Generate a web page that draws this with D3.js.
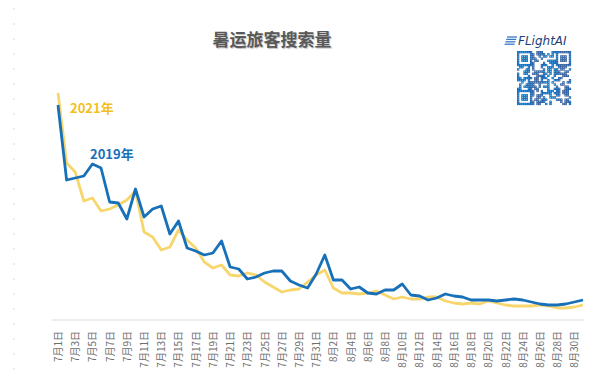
<!DOCTYPE html>
<html>
<head>
<meta charset="utf-8">
<script src="https://cdn.jsdelivr.net/npm/d3@7"></script>
<style>
	body { margin: 0; background: #fff; }
	#chart { width: 613px; height: 386px; }
	text { font-family: "Noto Sans CJK SC", "Noto Sans", sans-serif; }
</style>
</head>
<body>
<div id="chart"></div>
<script>
// Dates, 1 Jul - 31 Aug
var days = [
	"7月1日","7月2日","7月3日","7月4日","7月5日","7月6日","7月7日","7月8日","7月9日","7月10日",
	"7月11日","7月12日","7月13日","7月14日","7月15日","7月16日","7月17日","7月18日","7月19日","7月20日",
	"7月21日","7月22日","7月23日","7月24日","7月25日","7月26日","7月27日","7月28日","7月29日","7月30日",
	"7月31日","8月1日","8月2日","8月3日","8月4日","8月5日","8月6日","8月7日","8月8日","8月9日",
	"8月10日","8月11日","8月12日","8月13日","8月14日","8月15日","8月16日","8月17日","8月18日","8月19日",
	"8月20日","8月21日","8月22日","8月23日","8月24日","8月25日","8月26日","8月27日","8月28日","8月29日",
	"8月30日","8月31日"
];

// search volume (relative index)
var values2019 = [
	215,140,142,144,156,152,118,117,101,131,
	103,111,114,86,99,72,69,65,67,79,
	53,51,41,43,47,49,49,39,35,32,
	46,65,40,40,31,33,27,26,30,30,
	36,25,24,20,22,26,24,23,20,20,
	20,19,20,21,20,18,16,15,15,16,
	18,20
];
var values2021 = [
	227,157,148,119,122,109,111,115,120,129,
	88,83,70,73,90,80,72,58,52,55,
	45,44,47,45,38,33,28,30,31,38,
	45,50,32,27,27,26,27,29,25,21,
	23,21,21,23,23,19,17,16,17,16,
	19,17,15,14,14,14,15,14,12,12,
	13,15
];

var title = "暑运旅客搜索量";
var seriesNames = ["2019年", "2021年"];
var colors = {line2019: "#1770b8", line2021: "#f8d66e", label2021: "#f2bf1c"};

var width = 613, height = 386;
var margin = {top: 90, bottom: 66, left: 58, right: 30};

var svg = d3.select("#chart")
	.append("svg")
	.attr("width", width)
	.attr("height", height);

// faint dotted guide at the left edge
svg.append("g")
	.selectAll("circle")
	.data(d3.range(9, 372, 15))
	.enter()
	.append("circle")
	.attr("cx", 14)
	.attr("cy", d => d)
	.attr("r", 0.9)
	.attr("fill", "#e4e4e4");

// scales
var x = d3.scalePoint()
	.domain(days)
	.range([margin.left, width - margin.right]);
var y = d3.scaleLinear()
	.domain([0, 230])
	.range([height - margin.bottom, margin.top]);

// title
svg.append("text")
	.attr("x", 272)
	.attr("y", 46)
	.attr("text-anchor", "middle")
	.style("font-size", "17px")
	.style("font-weight", "bold")
	.style("fill", "#595959")
	.style("text-shadow", "1px 1px 1px rgba(0,0,0,0.25)")
	.text(title);

// x axis
var xAxisG = svg.append("g")
	.attr("transform", `translate(0, ${height - margin.bottom})`)
	.call(d3.axisBottom(x)
		.tickValues(days.filter((d, i) => i % 2 == 0))
		.tickSize(0));
xAxisG.select(".domain").remove();
xAxisG.append("line")
	.attr("x1", 52)
	.attr("x2", 584)
	.attr("stroke", "#dcdcdc");
xAxisG.selectAll("text")
	.attr("y", 0)
	.attr("x", -11)
	.attr("dy", "0.35em")
	.attr("transform", "rotate(-90)")
	.style("text-anchor", "end")
	.style("font-size", "10px")
	.style("fill", "#6e6e6e")
	.style("font-family", "\"Noto Sans CJK SC\", sans-serif");

// lines
var line = d3.line()
	.x((d, i) => x(days[i]))
	.y(d => y(d));

svg.append("path")
	.datum(values2021)
	.attr("d", line)
	.attr("fill", "none")
	.attr("stroke", colors.line2021)
	.attr("stroke-width", 2.8)
	.attr("stroke-linejoin", "round");

svg.append("path")
	.datum(values2019)
	.attr("d", line)
	.attr("fill", "none")
	.attr("stroke", colors.line2019)
	.attr("stroke-width", 2.8)
	.attr("stroke-linejoin", "round");

// series labels
svg.append("text")
	.attr("x", 70)
	.attr("y", 113)
	.style("font-size", "13px")
	.style("font-weight", "bold")
	.style("fill", colors.label2021)
	.text(seriesNames[1]);
svg.append("text")
	.attr("x", 90)
	.attr("y", 159)
	.style("font-size", "13px")
	.style("font-weight", "bold")
	.style("fill", colors.line2019)
	.text(seriesNames[0]);

// logo + qr
var logo = svg.append("g");
[0, 1, 2, 3].forEach(function(k){
	logo.append("line")
		.attr("x1", 507 - k * 0.8)
		.attr("x2", 517 - k * 0.8)
		.attr("y1", 37 + k * 2.4)
		.attr("y2", 37 + k * 2.4)
		.attr("stroke", "#3a78c8")
		.attr("stroke-width", 1.3);
});
logo.append("text")
	.attr("x", 518)
	.attr("y", 45)
	.style("font-size", "12px")
	.style("font-style", "italic")
	.style("fill", "#1d3f7a")
	.style("font-family", "\"DejaVu Sans\", sans-serif")
	.text("FLightAI");

var defs = svg.append("defs");
var grad = defs.append("radialGradient").attr("id", "qrGrad");
grad.append("stop").attr("offset", "0%").attr("stop-color", "#5fd0f5");
grad.append("stop").attr("offset", "55%").attr("stop-color", "#2a84d0");
grad.append("stop").attr("offset", "100%").attr("stop-color", "#113f86");

var qr = logo.append("g").attr("transform", "translate(517, 51)");
var n = 25, cell = 54 / n;
function finder(i, j){
	var inTL = i < 7 && j < 7, inTR = i < 7 && j >= n - 7, inBL = i >= n - 7 && j < 7;
	if (!(inTL || inTR || inBL)) return null;
	var a = inTL || inTR ? i : i - (n - 7);
	var b = inTL || inBL ? j : j - (n - 7);
	var ring = Math.min(a, b, 6 - a, 6 - b);
	return ring != 1;
}
// fixed module pattern (decorative only)
function module(i, j){
	var h = (i * 374761393 + j * 668265263) | 0;
	h = Math.imul(h ^ (h >>> 13), 1274126177);
	h = h ^ (h >>> 16);
	return (h & 7) < 4;
}
var cells = [];
for (var i = 0; i < n; i++){
	for (var j = 0; j < n; j++){
		var f = finder(i, j);
		var on = f === null ? module(i, j) : f;
		if (on) cells.push([i, j]);
	}
}
qr.append("g")
	.selectAll("rect")
	.data(cells)
	.enter()
	.append("rect")
	.attr("x", d => d[1] * cell)
	.attr("y", d => d[0] * cell)
	.attr("width", cell + 0.1)
	.attr("height", cell + 0.1)
	.attr("fill", "url(#qrGrad)");
</script>
</body>
</html>
